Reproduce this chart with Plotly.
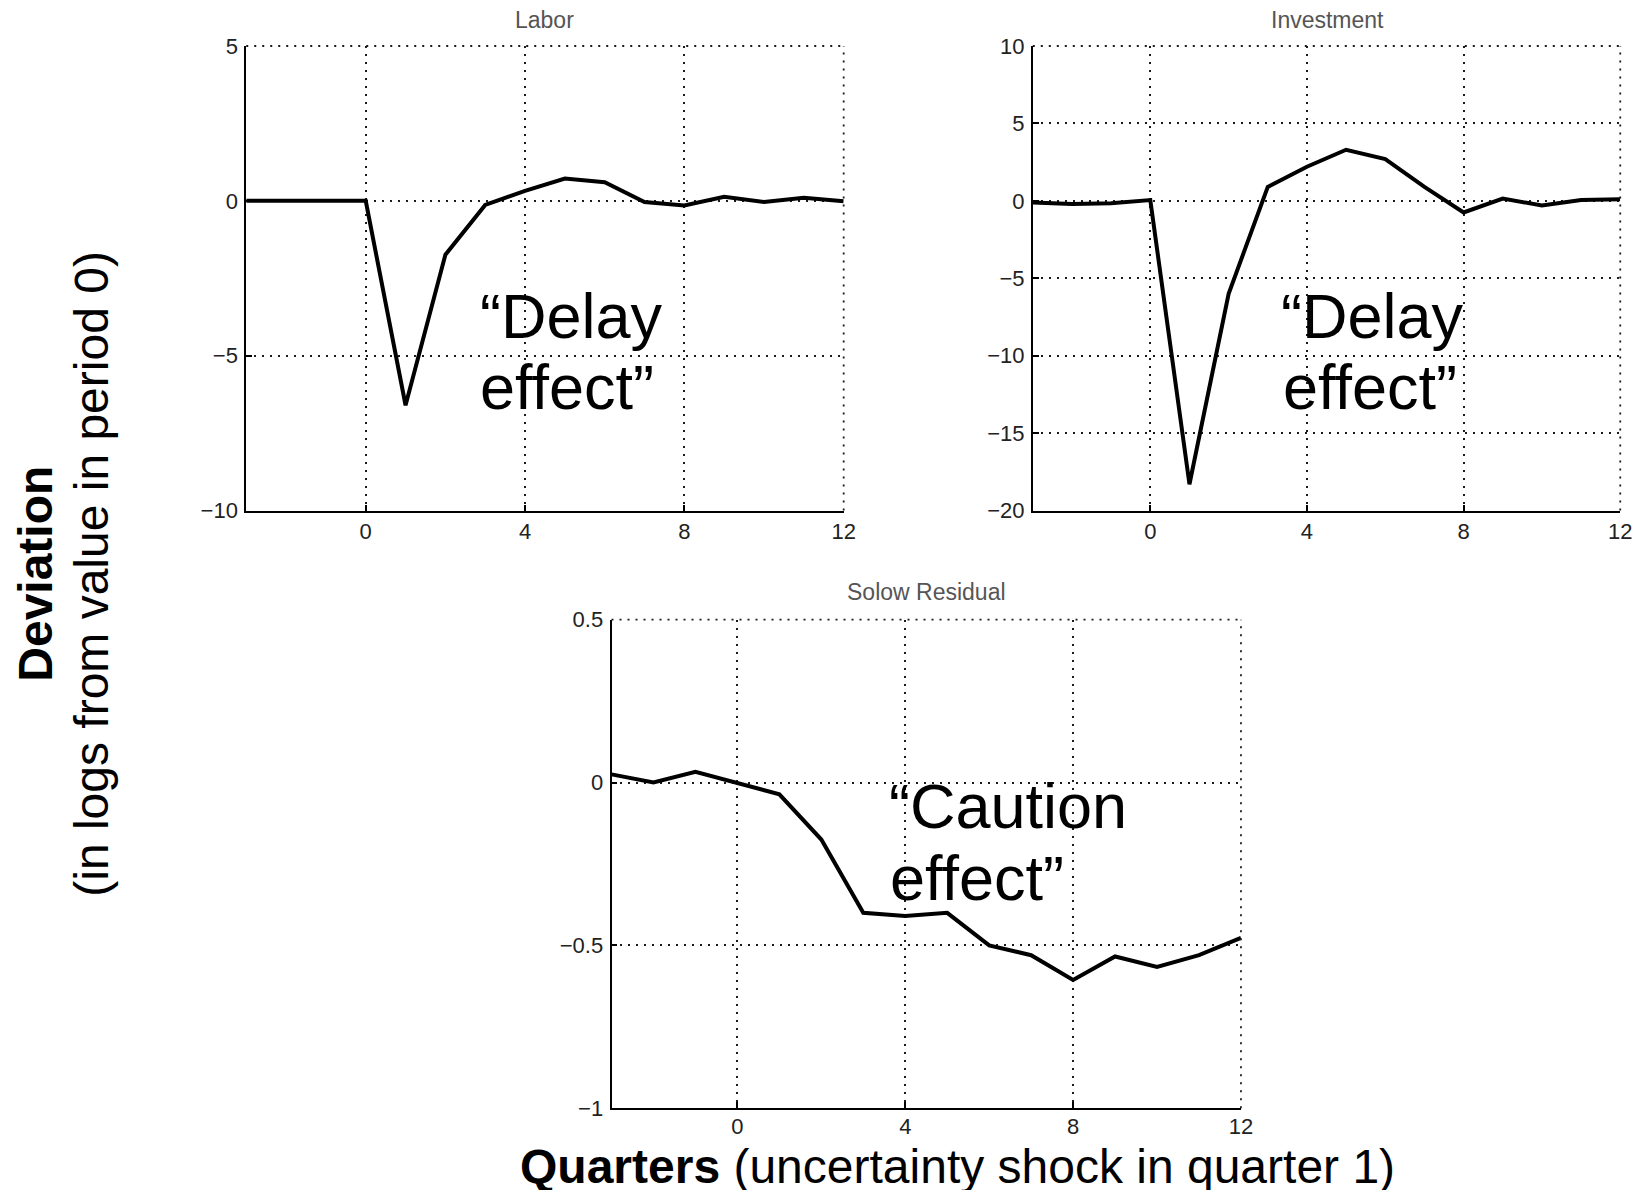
import plotly.graph_objects as go

# ---- data ----
quarters = [-3, -2, -1, 0, 1, 2, 3, 4, 5, 6, 7, 8, 9, 10, 11, 12]
labor = [0.0, 0.0, 0.0, 0.0, -6.6, -1.74, -0.13, 0.32, 0.72, 0.6, -0.04, -0.15, 0.13, -0.04, 0.1, -0.01]
investment = [-0.1, -0.2, -0.15, 0.05, -18.3, -6.0, 0.9, 2.2, 3.3, 2.7, 0.9, -0.75, 0.15, -0.3, 0.05, 0.1]
solow = [0.025, 0.0, 0.033, 0.0, -0.036, -0.175, -0.4, -0.41, -0.4, -0.5, -0.53, -0.606, -0.534, -0.566, -0.53, -0.477]

x_ticks = [0, 4, 8, 12]
labor_yticks = [-10, -5, 0, 5]
inv_yticks = [-20, -15, -10, -5, 0, 5, 10]
solow_yticks = [-1, -0.5, 0, 0.5]
titles = ["Labor", "Investment", "Solow Residual"]

OFF = 8
W, H = 1650, 1200
FONT = "Arial, Liberation Sans, Helvetica, sans-serif"
GRIDC = "#1a1a1a"
DASH = "2px,6px"

# calibration of target pixel positions to page positions
SX, SY, DY = 0.992, 0.978, 11.2

def fx(p):
    return (p / SX - OFF) / W

def fy(p):
    return 1 - ((p - DY) / SY - OFF) / H

fig = go.Figure()
fig.add_trace(go.Scatter(x=quarters, y=labor, mode="lines", line=dict(color="black", width=4), xaxis="x", yaxis="y"))
fig.add_trace(go.Scatter(x=quarters, y=investment, mode="lines", line=dict(color="black", width=4), xaxis="x2", yaxis="y2"))
fig.add_trace(go.Scatter(x=quarters, y=solow, mode="lines", line=dict(color="black", width=4), xaxis="x3", yaxis="y3"))

grid = dict(showgrid=True, gridcolor=GRIDC, gridwidth=1.8, griddash=DASH, zeroline=False,
            showline=True, linecolor="black", linewidth=1.8, ticks="inside", ticklen=6, tickcolor="black",
            tickwidth=1.5, tickfont=dict(family=FONT, size=22, color="#222222"))

panels = [
    dict(x0=246, x1=843, top=45, bot=509, yr=[-10, 5], yt=labor_yticks, xs=0),
    dict(x0=1032, x1=1619, top=45, bot=509, yr=[-20, 10], yt=inv_yticks, xs=0),
    dict(x0=611, x1=1240, top=618, bot=1106, yr=[-1, 0.5], yt=solow_yticks, xs=-3),
]

layout = dict(width=W, height=H, margin=dict(l=0, r=0, t=0, b=0), paper_bgcolor="white",
              plot_bgcolor="white", showlegend=False)
for i, p in enumerate(panels):
    sx = "" if i == 0 else str(i + 1)
    layout["xaxis" + sx] = dict(domain=[fx(p["x0"]), fx(p["x1"])], range=[-3, 12], tickvals=x_ticks,
                                anchor="y" + sx, ticklabelstandoff=p["xs"], **grid)
    layout["yaxis" + sx] = dict(domain=[fy(p["bot"]), fy(p["top"])], range=p["yr"], tickvals=p["yt"],
                                anchor="x" + sx, ticklabelstandoff=2, **grid)
fig.update_layout(**layout)

# dotted top/right borders
for i, p in enumerate(panels):
    sx = "" if i == 0 else str(i + 1)
    for (x0, y0, x1, y1) in [(0, 1, 1, 1), (1, 0, 1, 1)]:
        fig.add_shape(type="line", xref="x" + sx + " domain", yref="y" + sx + " domain",
                      x0=x0, y0=y0, x1=x1, y1=y1, line=dict(color=GRIDC, width=1.8, dash=DASH))

# panel titles
title_pos = [((246 + 843) / 2, 19), ((1032 + 1621) / 2, 19), ((611 + 1240) / 2, 590)]
for t, (cx, cy) in zip(titles, title_pos):
    fig.add_annotation(text=t, x=fx(cx), y=fy(cy), xref="paper", yref="paper", showarrow=False,
                       xanchor="center", yanchor="middle", font=dict(family=FONT, size=23, color="#555555"))

# big annotations
big = [
    ("\u201cDelay", 478, 315), ("effect\u201d", 478, 386),
    ("\u201cDelay", 1278, 315), ("effect\u201d", 1280, 386),
    ("\u201cCaution", 886, 804), ("effect\u201d", 887, 876),
]
for t, lx, cy in big:
    fig.add_annotation(text=t, x=fx(lx), y=fy(cy), xref="paper", yref="paper", showarrow=False,
                       xanchor="left", yanchor="middle", font=dict(family=FONT, size=63, color="black"))

# y-axis title
fig.add_annotation(text="<b>Deviation</b>", x=fx(36), y=fy(572), xref="paper", yref="paper",
                   showarrow=False, textangle=-90, xanchor="center", yanchor="middle",
                   font=dict(family=FONT, size=48, color="black"))
fig.add_annotation(text="(in logs from value in period 0)", x=fx(92), y=fy(572), xref="paper", yref="paper",
                   showarrow=False, textangle=-90, xanchor="center", yanchor="middle",
                   font=dict(family=FONT, size=48, color="black"))
# x-axis title
fig.add_annotation(text="<b>Quarters</b> (uncertainty shock in quarter 1)", x=fx(957), y=fy(1164),
                   xref="paper", yref="paper", showarrow=False, xanchor="center", yanchor="middle",
                   font=dict(family=FONT, size=48, color="black"))

fig.write_html("out.html")
